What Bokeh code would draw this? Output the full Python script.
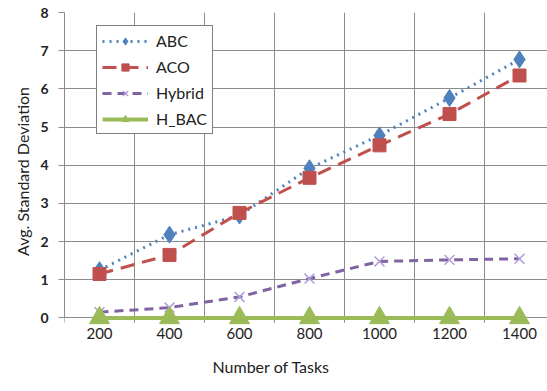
from bokeh.plotting import figure
from bokeh.models import FixedTicker, Range1d, Legend, LegendItem, Title
from bokeh.embed import file_html
from bokeh.resources import INLINE

tasks = ["200", "400", "600", "800", "1000", "1200", "1400"]
abc = [1.25, 2.18, 2.68, 3.92, 4.78, 5.76, 6.77]
aco = [1.15, 1.65, 2.75, 3.67, 4.52, 5.34, 6.35]
hybrid = [0.15, 0.27, 0.55, 1.03, 1.48, 1.52, 1.55]
h_bac = [0, 0, 0, 0, 0, 0, 0]
y_ticks = [0, 1, 2, 3, 4, 5, 6, 7, 8]

xs = list(range(len(tasks)))
bounds = [i + 0.5 for i in range(-1, len(tasks))]

FONT = "Lato"
GRID = "#8c8c8c"
TXT = "#222222"
p = figure(width=547, height=391, output_backend="svg", toolbar_location=None,
           x_range=Range1d(-0.5, 6.4), y_range=Range1d(-0.33, 8),
           min_border_left=64, min_border_right=0, min_border_top=12, min_border_bottom=61)
p.outline_line_color = None
p.background_fill_color = "white"

# grid: horizontal from ticker, vertical at category boundaries (with tick stubs below 0)
p.xgrid.grid_line_color = None
p.ygrid.grid_line_color = GRID
p.ygrid.grid_line_width = 1
p.segment(x0=bounds, x1=bounds, y0=[-0.13] * len(bounds), y1=[8] * len(bounds),
          line_color=GRID, line_width=1)

# y axis
p.yaxis.ticker = FixedTicker(ticks=y_ticks)
p.yaxis.bounds = (0, 8)
p.yaxis.axis_line_color = GRID
p.yaxis.major_tick_line_color = GRID
p.yaxis.major_tick_out = 6
p.yaxis.major_tick_in = 0
p.yaxis.minor_tick_line_color = None
p.yaxis.major_label_text_font = FONT
p.yaxis.major_label_text_font_style = "bold"
p.yaxis.major_label_text_font_size = "14px"
p.yaxis.major_label_text_color = TXT
p.yaxis.major_label_standoff = 10
p.yaxis.axis_label = "Avg. Standard Deviation"
p.yaxis.axis_label_text_font = FONT
p.yaxis.axis_label_text_font_style = "normal"
p.yaxis.axis_label_text_font_size = "16px"
p.yaxis.axis_label_text_color = TXT
p.yaxis.axis_label_standoff = 5

# x axis: labels only (line drawn by the 0 gridline)
p.xaxis.ticker = FixedTicker(ticks=xs)
p.xaxis.major_label_overrides = {i: t for i, t in enumerate(tasks)}
p.xaxis.axis_line_color = None
p.xaxis.major_tick_line_color = None
p.xaxis.minor_tick_line_color = None
p.xaxis.major_label_text_font = FONT
p.xaxis.major_label_text_font_size = "15px"
p.xaxis.major_label_text_color = TXT
p.xaxis.major_label_standoff = -9

p.add_layout(Title(text="Number of Tasks", align="left", offset=148,
                   text_font=FONT, text_font_size="16px", text_font_style="normal",
                   text_color=TXT, standoff=26), "below")

blue, red, purple, green = "#4F81BD", "#C0504D", "#8064A2", "#9BBB59"

l1 = p.line(xs, abc, line_color=blue, line_width=3, line_dash="2 5")
m1 = p.scatter(xs, abc, marker="diamond", size=17, fill_color=blue, line_color=blue)
l2 = p.line(xs, aco, line_color=red, line_width=3, line_dash="14 8")
m2 = p.scatter(xs, aco, marker="square", size=13, fill_color=red, line_color=red)
l3 = p.line(xs, hybrid, line_color=purple, line_width=3, line_dash="9 6")
m3 = p.scatter(xs, hybrid, marker="x", size=14, line_color="#b39ddb", line_width=1.5)
l4 = p.line(xs, h_bac, line_color=green, line_width=4)
m4 = p.scatter(xs, h_bac, marker="triangle", size=20, fill_color=green, line_color=green)

legend = Legend(items=[
    LegendItem(label="ABC", renderers=[l1, m1]),
    LegendItem(label="ACO", renderers=[l2, m2]),
    LegendItem(label="Hybrid", renderers=[l3, m3]),
    LegendItem(label="H_BAC", renderers=[l4, m4]),
], location=(32, 196))
legend.border_line_color = "black"
legend.border_line_width = 1.5
legend.background_fill_alpha = 1
legend.label_text_font = FONT
legend.label_text_font_size = "16px"
legend.label_text_color = TXT
legend.glyph_width = 46
legend.glyph_height = 18
legend.label_height = 18
legend.spacing = 7
legend.padding = 5
legend.margin = 0
legend.label_standoff = 8
p.add_layout(legend)

open("out.html", "w").write(file_html(p, INLINE))
